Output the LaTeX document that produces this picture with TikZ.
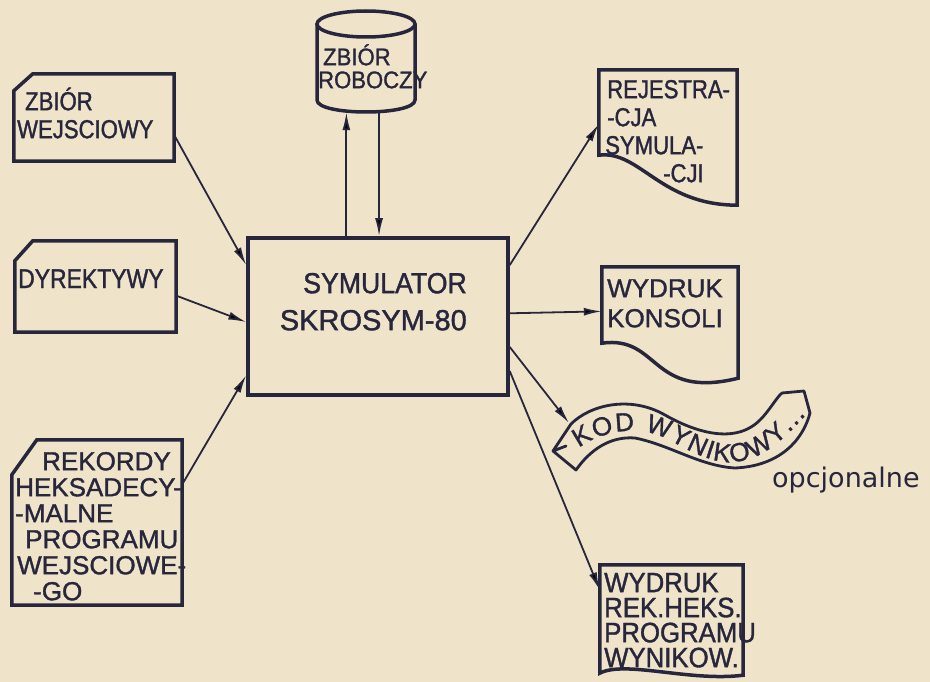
\documentclass[tikz,border=0pt]{standalone}
\usepackage{fontspec}
\setmainfont{Liberation Sans}[FakeBold=1.3]
\newfontfamily\condf{Liberation Sans}[FakeStretch=0.85,FakeBold=1.3]
\newfontfamily\semif{Liberation Sans}[FakeStretch=0.92,FakeBold=1.3]
\newfontfamily\dvsf{DejaVu Sans}
\usetikzlibrary{arrows.meta,calc,decorations.text}
\definecolor{bg}{RGB}{239,228,202}
\definecolor{ink}{RGB}{40,38,60}
\begin{document}
\begin{tikzpicture}[x=1pt,y=-1pt,
  fr/.style 2 args={draw=none,inner sep=0pt,minimum width=#1,minimum height=#2},
  outl/.style={draw=ink,line width=3.5pt,line join=miter},
  arr/.style={draw=ink,line width=1.8pt,-{Latex[length=18pt,width=8pt]}},
  txt/.style={anchor=north west,inner sep=0pt,align=left,text=ink},
]
\fill[bg] (0,0) rectangle (930,682);
\useasboundingbox (0,0) rectangle (930,682);

% frames
\node[fr={160pt}{87pt}] (zbw) at (94,117.5) {};
\node[fr={161pt}{91pt}] (dyr) at (95.5,286.5) {};
\node[fr={170pt}{165pt}] (rek) at (97,522.5) {};
\node[fr={98pt}{101pt}] (rob) at (366,61.5) {};
\node[fr={260pt}{157pt},draw=ink,line width=3.5pt] (main) at (378,316.5) {};
\node[fr={138pt}{135pt}] (rej) at (668,137.5) {};
\node[fr={136pt}{111pt}] (kon) at (670,322.5) {};
\node[fr={143pt}{110pt}] (wrk) at (671.5,620) {};

% input cards
\draw[outl] ([xshift=19pt]zbw.north west) -- (zbw.north east) -- (zbw.south east) -- (zbw.south west) -- ([yshift=-17pt]zbw.north west) -- cycle;
\draw[outl] ([xshift=18pt]dyr.north west) -- (dyr.north east) -- (dyr.south east) -- (dyr.south west) -- ([yshift=-20pt]dyr.north west) -- cycle;
\draw[outl] ([xshift=25pt]rek.north west) -- (rek.north east) -- (rek.south east) -- (rek.south west) -- ([yshift=-35pt]rek.north west) -- cycle;

% cylinder
\draw[outl] (366,24) ellipse [x radius=49pt, y radius=13pt];
\draw[outl] (317,24) -- (317,100) .. controls (317,116) and (415,116) .. (415,100) -- (415,24);

% documents
\draw[outl] (rej.north west) -- (rej.north east) -- (rej.south east) .. controls (660,205) and (640,150) .. ([yshift=50pt]rej.south west) -- cycle;
\draw[outl] (kon.north west) -- (kon.north east) -- (kon.south east) .. controls (650,400) and (660,335) .. ([yshift=35pt]kon.south west) -- cycle;
\draw[outl] (wrk.north west) -- (wrk.north east) -- (wrk.south east) .. controls (690,682) and (625,660) .. ([yshift=2pt]wrk.south west) -- cycle;

% banner
\coordinate (kod) at (569,423);
\draw[draw=ink,line width=2.8pt,line join=round]
  (571,424) .. controls (590,405) and (630,395) .. (665,415)
  .. controls (695,432) and (735,445) .. (760,420)
  .. controls (770,410) and (776,398) .. (782,393)
  -- (804,391) -- (810,413)
  .. controls (803,440) and (780,466) .. (735,468)
  .. controls (700,466) and (670,445) .. (635,438)
  .. controls (610,436) and (590,450) .. (576,470)
  -- (553,451) -- (566,446) -- (553,451) -- cycle;
\path[decorate,decoration={text along path,text color=ink,text align={fit to path},
  text={|\fontsize{26}{26}\selectfont|KOD WYNIKOWY...}}]
  (579,448) .. controls (600,432) and (635,424) .. (665,438)
  .. controls (690,450) and (715,468) .. (745,460)
  .. controls (770,454) and (790,432) .. (806,415);

% texts
\node[txt,font=\condf\fontsize{26}{28}\selectfont] (zbwT) at (17,84) {\hspace*{8pt}\rule{0pt}{26pt}ZBIÓR\\WEJSCIOWY};
\node[anchor=base west,inner sep=0pt,text=ink,font=\condf\fontsize{27}{27}\selectfont] (dyrT) at (18,288) {DYREKTYWY};
\node[txt,font=\fontsize{26}{26}\selectfont] (rekT) at (15,444) {\hspace*{27pt}\rule{0pt}{26pt}REKORDY\\HEKSADECY-\\-MALNE\\\hspace*{10pt}PROGRAMU\\\hspace*{2pt}WEJSCIOWE-\\\hspace*{18pt}-GO};
\node[txt,font=\semif\fontsize{24}{23}\selectfont] (robT) at (318,41) {\hspace*{5pt}\rule{0pt}{24pt}ZBIÓR\\ROBOCZY};
\node[anchor=north east,inner sep=0pt,align=right,text=ink,font=\fontsize{29}{37}\selectfont] (mainT) at (467,264) {{\semif\rule{0pt}{29pt}SYMULATOR}\\SKROSYM-80};
\node[txt,font=\condf\fontsize{26}{28}\selectfont] (rejT) at (605,72) {\hspace*{2pt}\rule{0pt}{26pt}REJESTRA-\\\hspace*{2pt}-CJA\\SYMULA-\\\hspace*{58pt}-CJI};
\node[txt,font=\fontsize{26}{30}\selectfont] (konT) at (607,271) {\rule{0pt}{26pt}WYDRUK\\KONSOLI};
\node[txt,font=\semif\fontsize{28}{25}\selectfont] (wrkT) at (604,564) {\rule{0pt}{28pt}WYDRUK\\REK.HEKS.\\PROGRAMU\\WYNIKOW.};
\node[anchor=base west,inner sep=0pt,text=ink,font=\dvsf\fontsize{27}{27}\selectfont] (opc) at (772,487) {opcjonalne};

% connectors
\draw[arr] ($(zbw.north east)!0.7!(zbw.south east)$) -- ($(main.north west)!0.18!(main.south west)$);
\draw[arr] ($(dyr.north east)!0.6!(dyr.south east)$) -- ($(main.north west)!0.535!(main.south west)$);
\draw[arr] ($(rek.north east)!0.27!(rek.south east)$) -- ($(main.north west)!0.866!(main.south west)$);
\coordinate (mL) at ($(main.north west)!0.38!(main.north east)$);
\coordinate (mR) at ($(main.north west)!0.504!(main.north east)$);
\draw[arr] (mL) -- (mL |- rob.south);
\draw[arr] (mR |- rob.south) -- (mR);
\draw[arr] ($(main.north east)!0.18!(main.south east)$) -- ($(rej.north west)!0.4!(rej.south west)$);
\draw[arr] ($(main.north east)!0.48!(main.south east)$) -- ($(kon.north west)!0.4!(kon.south west)$);
\draw[arr] ($(main.north east)!0.69!(main.south east)$) -- (kod);
\draw[arr] ($(main.north east)!0.84!(main.south east)$) -- ($(wrk.north west)!0.23!(wrk.south west)$);
\end{tikzpicture}
\end{document}
